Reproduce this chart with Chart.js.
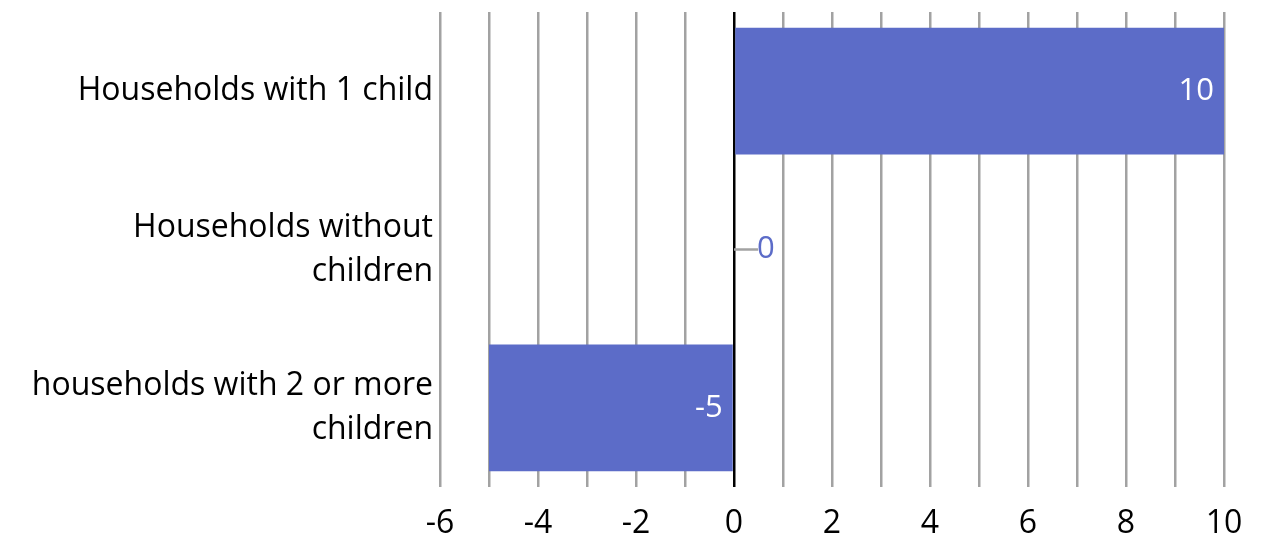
<!DOCTYPE html>
<html>
<head>
<meta charset="utf-8">
<title>Households</title>
<script src="https://cdn.jsdelivr.net/npm/chart.js"></script>
<style>
  html, body { margin: 0; padding: 0; background: #fff; }
  #wrap { width: 1272px; height: 541px; }
</style>
</head>
<body>
<div id="wrap"><canvas id="chart"></canvas></div>
<script>
// categories and values
const categories = [
    'Households with 1 child',
    ['Households without', 'children'],
    ['households with 2 or more', 'children']
];
const values = [10, 0, -5];
const axisMin = -6;
const axisMax = 10;

const barColor = '#5c6cc8';
const gridColor = '#a2a2a2';
const fontFamily = "'Open Sans', 'Noto Sans', sans-serif";

// value labels drawn at the bar end, with a leader for zero-length bars
const valueLabels = {
    id: 'valueLabels',
    afterDatasetsDraw(chart) {
        const ctx = chart.ctx;
        const meta = chart.getDatasetMeta(0);
        ctx.save();
        ctx.font = '31px ' + fontFamily;
        ctx.textBaseline = 'middle';
        meta.data.forEach((bar, i) => {
            const v = values[i];
            if (v === 0) {
                ctx.strokeStyle = gridColor;
                ctx.lineWidth = 2.5;
                ctx.beginPath();
                ctx.moveTo(bar.base, bar.y);
                ctx.lineTo(bar.base + 24, bar.y);
                ctx.stroke();
                ctx.fillStyle = barColor;
                ctx.textAlign = 'left';
                ctx.fillText(String(v), bar.base + 23, bar.y);
            } else {
                ctx.fillStyle = '#ffffff';
                ctx.textAlign = 'right';
                ctx.fillText(String(v), Math.max(bar.x, bar.base) - 10, bar.y);
            }
        });
        ctx.restore();
    }
};

new Chart(document.getElementById('chart'), {
    type: 'bar',
    data: {
        labels: categories,
        datasets: [{
            data: values,
            backgroundColor: barColor,
            borderWidth: 0,
            barPercentage: 0.8,
            categoryPercentage: 1
        }]
    },
    options: {
        indexAxis: 'y',
        responsive: true,
        maintainAspectRatio: false,
        animation: false,
        layout: { padding: { top: 12, right: 48, left: 0, bottom: 0 } },
        plugins: {
            legend: { display: false },
            tooltip: { enabled: false }
        },
        scales: {
            x: {
                min: axisMin,
                max: axisMax,
                border: { display: false },
                grid: {
                    drawTicks: false,
                    lineWidth: 2.5,
                    color: (c) => (c.tick && c.tick.value === 0) ? '#000000' : gridColor
                },
                ticks: {
                    stepSize: 1,
                    autoSkip: false,
                    maxRotation: 0,
                    padding: 18,
                    color: '#000',
                    font: { family: fontFamily, size: 32 },
                    callback: (v) => (v % 2 === 0 ? String(v) : '')
                },
                afterFit: (scale) => { scale.height = 54; }
            },
            y: {
                border: { display: false },
                grid: { display: false, drawTicks: false },
                ticks: {
                    padding: 7,
                    color: '#000',
                    font: { family: fontFamily, size: 32, lineHeight: 1.38 }
                },
                afterFit: (scale) => {
                    scale.width = 440;
                    scale.paddingTop = 0;
                    scale.paddingBottom = 0;
                }
            }
        }
    },
    plugins: [valueLabels]
});
</script>
</body>
</html>
